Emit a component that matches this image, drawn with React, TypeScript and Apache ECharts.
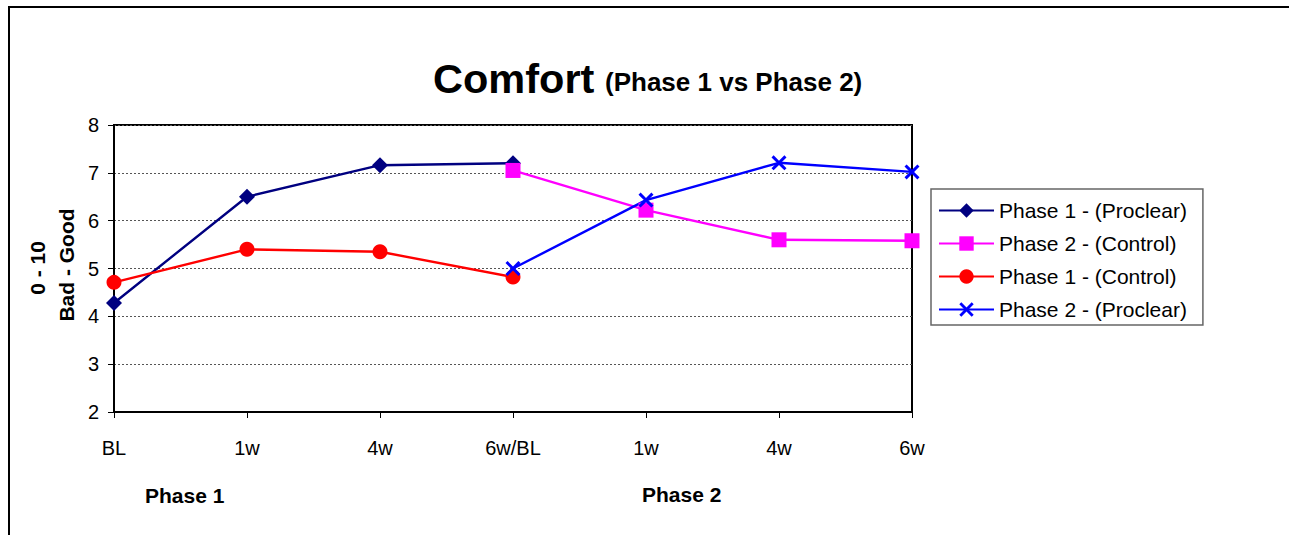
import React, { useEffect, useRef } from "react";
import * as echarts from "echarts";

const categories = ["BL", "1w", "4w", "6w/BL", "1w", "4w", "6w"];
const p1Proclear = [4.28, 6.5, 7.16, 7.2, null, null, null];
const p2Control = [null, null, null, 7.05, 6.22, 5.6, 5.58];
const p1Control = [4.71, 5.4, 5.35, 4.82, null, null, null];
const p2Proclear = [null, null, null, 5.0, 6.43, 7.21, 7.02];
const seriesNames = [
  "Phase 1 - (Proclear)",
  "Phase 2 - (Control)",
  "Phase 1 - (Control)",
  "Phase 2 - (Proclear)",
];

const FONT = "'Liberation Sans', Arial, Helvetica, sans-serif";
const X_SYMBOL =
  "path://M0,1.4L1.4,0L5,3.6L8.6,0L10,1.4L6.4,5L10,8.6L8.6,10L5,6.4L1.4,10L0,8.6L3.6,5Z";

export default function App() {
  const ref = useRef<HTMLDivElement>(null);
  useEffect(() => {
    if (!ref.current) return;
    const chart = echarts.init(ref.current, undefined, { renderer: "svg" });
    const mk = (
      name: string,
      data: (number | null)[],
      color: string,
      symbol: string,
      size: number
    ) => ({
      name,
      type: "line",
      data,
      connectNulls: false,
      symbol,
      symbolSize: size,
      showSymbol: true,
      lineStyle: { color, width: 2.4 },
      itemStyle: { color, borderWidth: 0 },
      emphasis: { disabled: true },
    });
    chart.setOption({
      animation: false,
      backgroundColor: "#fff",
      textStyle: { fontFamily: FONT },
      grid: {
        left: 114,
        top: 125,
        width: 798,
        height: 287,
        show: true,
        borderColor: "#000",
        borderWidth: 2,
        backgroundColor: "transparent",
      },
      legend: {
        orient: "vertical",
        left: 931,
        top: 189,
        padding: [11, 16, 5, 7],
        itemWidth: 55,
        itemHeight: 18,
        itemGap: 12,
        borderColor: "#666",
        borderWidth: 1.5,
        textStyle: { fontSize: 21, color: "#000", fontFamily: FONT },
        data: seriesNames,
      },
      xAxis: {
        type: "category",
        data: categories,
        boundaryGap: false,
        axisLine: { lineStyle: { color: "#000", width: 2 } },
        axisTick: { show: true, length: 6, lineStyle: { color: "#000", width: 1 } },
        axisLabel: { color: "#000", fontSize: 20, margin: 26, fontFamily: FONT },
        splitLine: { show: false },
      },
      yAxis: {
        type: "value",
        min: 2,
        max: 8,
        interval: 1,
        axisLine: { show: true, lineStyle: { color: "#000", width: 2 } },
        axisTick: { show: true, length: 6, lineStyle: { color: "#000", width: 1 } },
        axisLabel: { color: "#000", fontSize: 20, margin: 15, fontFamily: FONT },
        splitLine: { show: true, lineStyle: { color: "#555", width: 1, type: [2, 2] } },
      },
      series: [
        mk(seriesNames[0], p1Proclear, "#000080", "diamond", 16),
        mk(seriesNames[1], p2Control, "#FF00FF", "rect", 15),
        mk(seriesNames[2], p1Control, "#FF0000", "circle", 15),
        mk(seriesNames[3], p2Proclear, "#0000FF", X_SYMBOL, 15),
      ],
      graphic: [
        {
          type: "rect",
          shape: { x: 9, y: 7, width: 1400, height: 700 },
          style: { fill: "none", stroke: "#000", lineWidth: 2 },
          silent: true,
        },
        {
          type: "text",
          x: 433,
          y: 78,
          style: {
            text: "Comfort",
            font: `bold 41.5px ${FONT}`,
            fill: "#000",
            textAlign: "left",
            textVerticalAlign: "middle",
          },
        },
        {
          type: "text",
          x: 605,
          y: 82,
          style: {
            text: "(Phase 1 vs Phase 2)",
            font: `bold 26px ${FONT}`,
            fill: "#000",
            textAlign: "left",
            textVerticalAlign: "middle",
          },
        },
        {
          type: "text",
          x: 37.5,
          y: 268,
          rotation: Math.PI / 2,
          style: {
            text: "0 - 10",
            font: `bold 21px ${FONT}`,
            fill: "#000",
            textAlign: "center",
            textVerticalAlign: "middle",
          },
        },
        {
          type: "text",
          x: 66,
          y: 265,
          rotation: Math.PI / 2,
          style: {
            text: "Bad - Good",
            font: `bold 21px ${FONT}`,
            fill: "#000",
            textAlign: "center",
            textVerticalAlign: "middle",
          },
        },
        {
          type: "text",
          x: 145,
          y: 495,
          style: {
            text: "Phase 1",
            font: `bold 21px ${FONT}`,
            fill: "#000",
            textAlign: "left",
            textVerticalAlign: "middle",
          },
        },
        {
          type: "text",
          x: 642,
          y: 494,
          style: {
            text: "Phase 2",
            font: `bold 21px ${FONT}`,
            fill: "#000",
            textAlign: "left",
            textVerticalAlign: "middle",
          },
        },
      ],
    });
    return () => chart.dispose();
  }, []);
  return (
    <div
      ref={ref}
      style={{ position: "fixed", left: 0, top: 0, width: 1289, height: 535 }}
    />
  );
}
